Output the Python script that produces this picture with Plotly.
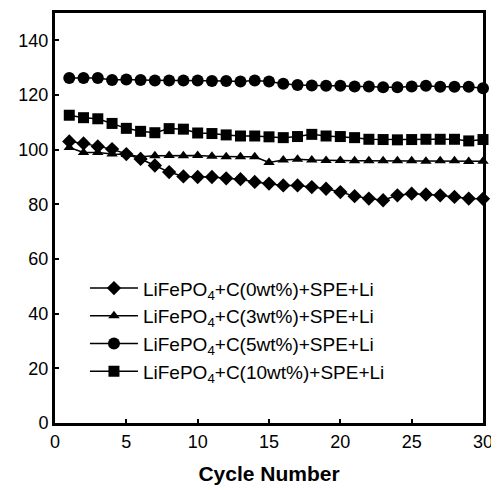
import plotly.graph_objects as go

cycles = list(range(1, 31))

c0 = [103.0, 102.3, 101.2, 100.2, 98.4, 96.6, 94.2, 91.8, 90.2, 90.0,
      90.0, 89.5, 89.2, 88.2, 87.6, 86.9, 86.9, 86.3, 85.7, 84.5,
      83.0, 82.1, 81.5, 83.3, 83.9, 83.6, 83.3, 82.7, 82.1, 82.0]
c3 = [100.8, 99.0, 99.0, 98.4, 98.2, 97.4, 97.8, 97.9, 97.8, 97.9,
      97.6, 97.4, 97.4, 97.4, 95.3, 96.2, 96.5, 96.2, 96.0, 96.0,
      95.9, 95.9, 95.9, 95.9, 95.9, 95.8, 95.9, 95.9, 95.7, 95.8]
c5 = [126.2, 126.2, 126.2, 125.5, 125.7, 125.5, 125.3, 125.3, 125.3, 125.3,
      125.1, 125.1, 124.9, 125.3, 124.9, 124.1, 123.7, 123.5, 123.4, 123.4,
      123.1, 123.1, 122.8, 122.8, 123.1, 123.4, 123.0, 123.0, 123.0, 122.5]
c10 = [112.6, 111.7, 111.3, 109.6, 107.8, 106.7, 106.2, 107.7, 107.5, 106.1,
       105.9, 105.4, 105.0, 105.0, 104.7, 104.4, 104.8, 105.6, 105.0, 104.8,
       104.4, 103.8, 103.7, 103.6, 103.7, 103.8, 103.8, 103.8, 103.2, 103.7]

names = ["LiFePO<sub>4</sub>+C(0wt%)+SPE+Li",
         "LiFePO<sub>4</sub>+C(3wt%)+SPE+Li",
         "LiFePO<sub>4</sub>+C(5wt%)+SPE+Li",
         "LiFePO<sub>4</sub>+C(10wt%)+SPE+Li"]
series = [c0, c3, c5, c10]
symbols = ["diamond", "triangle-up", "circle", "square"]
sizes = [11, 10, 12, 11]

fig = go.Figure()
for name, ys, sym, sz in zip(names, series, symbols, sizes):
    fig.add_trace(go.Scatter(
        x=cycles, y=ys, name=name, mode="lines+markers",
        line=dict(color="black", width=1.5),
        marker=dict(symbol=sym, size=sz, color="black"),
        cliponaxis=False,
    ))

axis_common = dict(
    showline=True, linecolor="black", linewidth=3, mirror=True,
    ticks="inside", ticklen=4, tickcolor="black", tickwidth=1.5,
    showgrid=False, zeroline=False,
    tickfont=dict(family="Liberation Sans, Arial", size=18, color="black"),
)

# page body has an 8px default margin; figure size/margins compensate for it
fig.update_layout(
    width=491, height=482,
    margin=dict(l=47, r=16, t=2, b=67),
    paper_bgcolor="white", plot_bgcolor="white",
    xaxis=dict(range=[0, 30], tickvals=[0, 5, 10, 15, 20, 25, 30],
               title=dict(text="<b>Cycle Number</b>", standoff=16,
                          font=dict(family="Liberation Sans, Arial", size=21, color="black")),
               **axis_common),
    yaxis=dict(range=[0, 150], tickvals=[0, 20, 40, 60, 80, 100, 120, 140],
               **axis_common),
    legend=dict(x=0.07, y=0.375, xanchor="left", yanchor="top",
                bgcolor="rgba(0,0,0,0)", itemwidth=48,
                font=dict(family="Liberation Sans, Arial", size=19, color="black")),
    showlegend=True,
)

fig.write_html("out.html")
